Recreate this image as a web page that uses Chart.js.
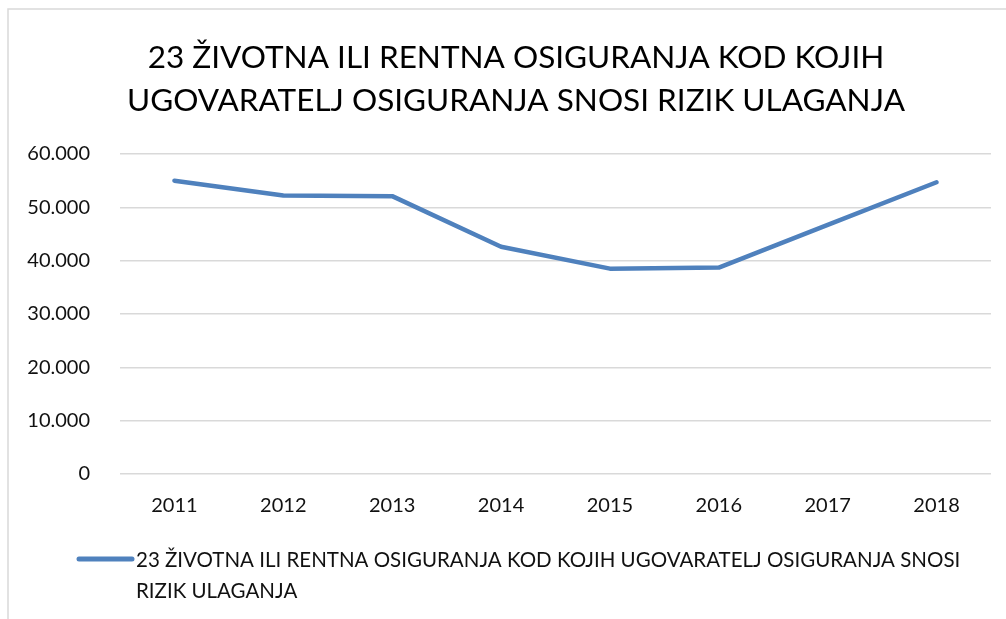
<!DOCTYPE html>
<html>
<head>
<meta charset="utf-8">
<script src="https://cdn.jsdelivr.net/npm/chart.js@4.4.0/dist/chart.umd.min.js"></script>
<style>
  html, body { margin: 0; padding: 0; background: #fff; }
  #wrap { width: 1006px; height: 619px; position: relative; }
</style>
</head>
<body>
<div id="wrap"><canvas id="chart"></canvas></div>
<script>
const years = ["2011", "2012", "2013", "2014", "2015", "2016", "2017", "2018"];
const values = [55000, 52200, 52100, 42600, 38500, 38700, 46700, 54700];
const seriesName = "23 ŽIVOTNA ILI RENTNA OSIGURANJA KOD KOJIH UGOVARATELJ OSIGURANJA SNOSI RIZIK ULAGANJA";
const titleLines = ["23 ŽIVOTNA ILI RENTNA OSIGURANJA KOD KOJIH", "UGOVARATELJ OSIGURANJA SNOSI RIZIK ULAGANJA"];

const FONT = "Lato, 'Open Sans', sans-serif";
const lineColor = "#4f81bd";

// frame, title and wrapped legend drawn by hand
const extras = {
  id: "extras",
  beforeDraw(chart) {
    const c = chart.ctx;
    c.save();
    c.strokeStyle = "#d9d9d9";
    c.lineWidth = 1.5;
    c.beginPath();
    c.moveTo(8, 619);
    c.lineTo(8, 9);
    c.lineTo(1006, 9);
    c.stroke();
    c.restore();
  },
  afterDraw(chart) {
    const c = chart.ctx;
    c.save();
    c.fillStyle = "#000";
    c.font = "31.5px " + FONT;
    c.textAlign = "center";
    c.textBaseline = "middle";
    titleLines.forEach((l, i) => c.fillText(l, 516, 58 + i * 43));

    c.strokeStyle = lineColor;
    c.lineWidth = 5;
    c.lineCap = "round";
    c.beginPath();
    c.moveTo(79, 559);
    c.lineTo(132, 559);
    c.stroke();

    c.font = "20.5px " + FONT;
    c.fillStyle = "#111";
    c.textAlign = "left";
    const words = chart.data.datasets[0].label.split(" ");
    const lines = [];
    let cur = "";
    words.forEach(w => {
      const t = cur ? cur + " " + w : w;
      if (c.measureText(t).width > 850 && cur) { lines.push(cur); cur = w; }
      else cur = t;
    });
    lines.push(cur);
    lines.forEach((l, i) => c.fillText(l, 136, 560 + i * 31));
    c.restore();
  }
};

new Chart(document.getElementById("chart"), {
  type: "line",
  data: {
    labels: years,
    datasets: [{
      label: seriesName,
      data: values,
      borderColor: lineColor,
      backgroundColor: lineColor,
      borderWidth: 4.5,
      pointRadius: 0,
      tension: 0,
      borderCapStyle: "round",
      borderJoinStyle: "round"
    }]
  },
  options: {
    responsive: true,
    maintainAspectRatio: false,
    animation: false,
    layout: { padding: { left: 0, right: 15, top: 154, bottom: 0 } },
    plugins: {
      legend: { display: false },
      tooltip: { enabled: false },
      title: { display: false }
    },
    scales: {
      x: {
        offset: true,
        grid: { display: false, drawTicks: false },
        border: { display: false },
        ticks: { color: "#111", font: { family: FONT, size: 20 }, padding: 20, maxRotation: 0 },
        afterFit(s) { s.height = 145; }
      },
      y: {
        min: 0,
        max: 60000,
        grid: { color: "#d9d9d9", lineWidth: 1.5, drawTicks: false },
        border: { display: false },
        ticks: {
          stepSize: 10000,
          color: "#111",
          font: { family: FONT, size: 20 },
          padding: 30,
          callback: v => v.toLocaleString("de-DE")
        },
        afterFit(s) { s.width = 120; }
      }
    }
  },
  plugins: [extras]
});
</script>
</body>
</html>
